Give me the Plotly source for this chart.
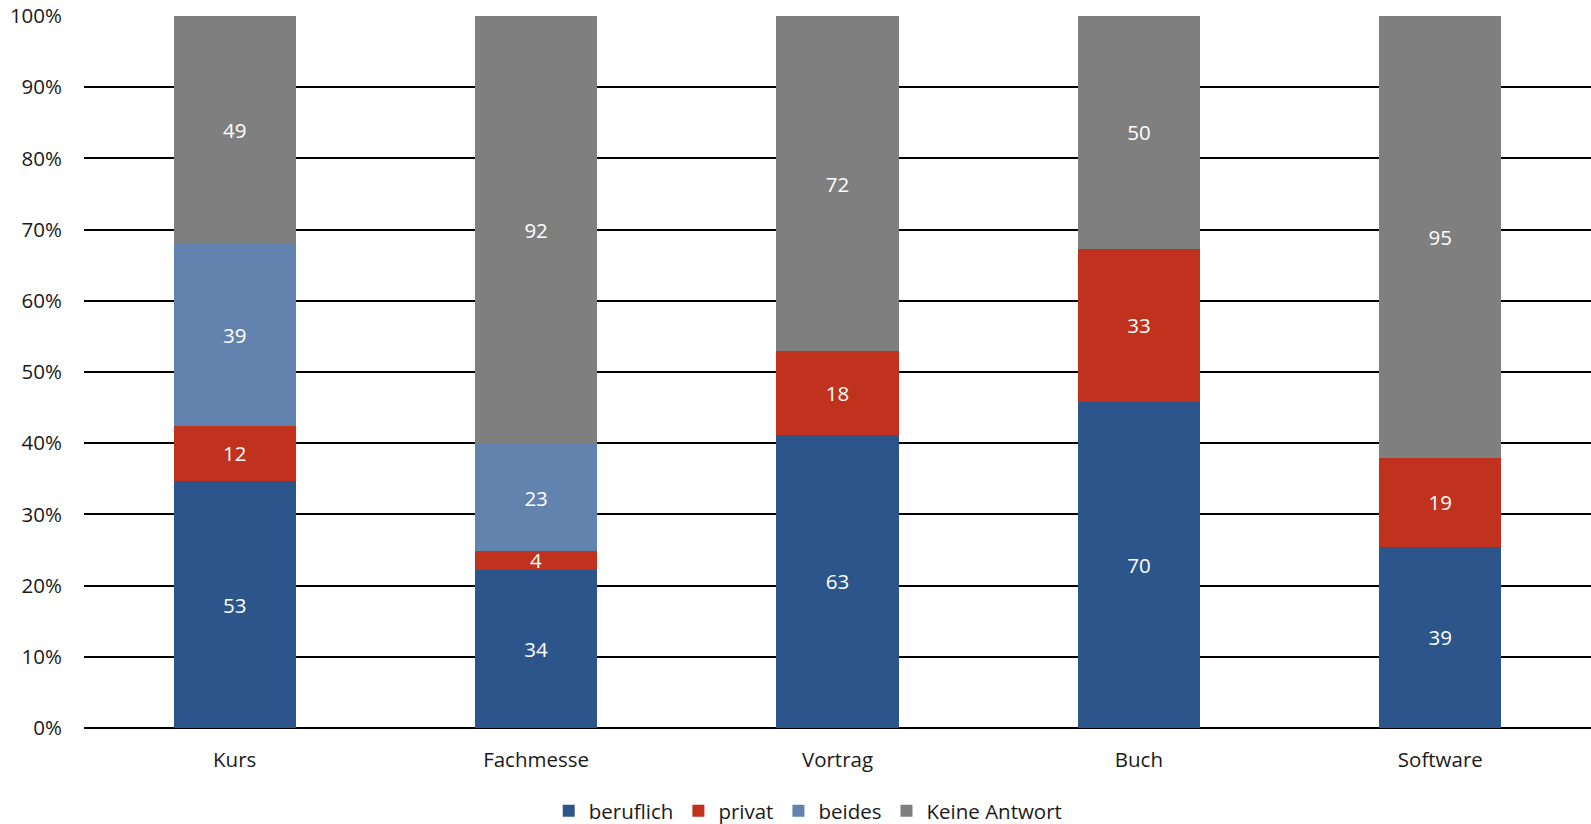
import plotly.graph_objects as go

categories = ["Kurs", "Fachmesse", "Vortrag", "Buch", "Software"]
beruflich = [53, 34, 63, 70, 39]
privat = [12, 4, 18, 33, 19]
beides = [39, 23, 0, 0, 0]
keine_antwort = [49, 92, 72, 50, 95]

series = [
    ("beruflich", beruflich, "#2C568B"),
    ("privat", privat, "#C0321E"),
    ("beides", beides, "#6283AD"),
    ("Keine Antwort", keine_antwort, "#7F7F7F"),
]

FONT = "Open Sans, Lato, sans-serif"
FS = 20.5

fig = go.Figure()
for name, vals, color in series:
    fig.add_trace(go.Bar(
        name=name,
        x=categories,
        y=vals,
        marker=dict(color=color, line=dict(width=0)),
        text=[str(v) if v else "" for v in vals],
        textposition="inside",
        insidetextanchor="middle",
        textangle=0,
        constraintext="none",
        textfont=dict(color="white", size=FS, family=FONT),
        hoverinfo="x+y+name",
    ))

fig.update_layout(
    barmode="stack",
    barnorm="percent",
    bargap=0.595,
    width=1591,
    height=824,
    margin=dict(l=84, r=0, t=16, b=96, autoexpand=False),
    paper_bgcolor="white",
    plot_bgcolor="white",
    font=dict(family=FONT, size=FS, color="#1a1a1a"),
    uniformtext=dict(minsize=FS, mode="show"),
    legend=dict(
        orientation="h",
        traceorder="normal",
        xref="container",
        yref="container",
        x=0.508,
        xanchor="center",
        y=0.016,
        yanchor="middle",
        font=dict(size=FS, family=FONT, color="#1a1a1a"),
        itemwidth=30,
    ),
    xaxis=dict(
        showgrid=False,
        showline=False,
        ticks="",
        ticklabelstandoff=17,
        tickfont=dict(size=FS, family=FONT, color="#1a1a1a"),
    ),
    yaxis=dict(
        range=[0, 100],
        dtick=10,
        ticksuffix="%",
        showgrid=True,
        gridcolor="black",
        gridwidth=1.5,
        zeroline=True,
        zerolinecolor="black",
        zerolinewidth=1.5,
        ticks="",
        ticklabelstandoff=21,
        tickfont=dict(size=FS, family=FONT, color="#1a1a1a"),
    ),
)

fig.write_html("out.html")
